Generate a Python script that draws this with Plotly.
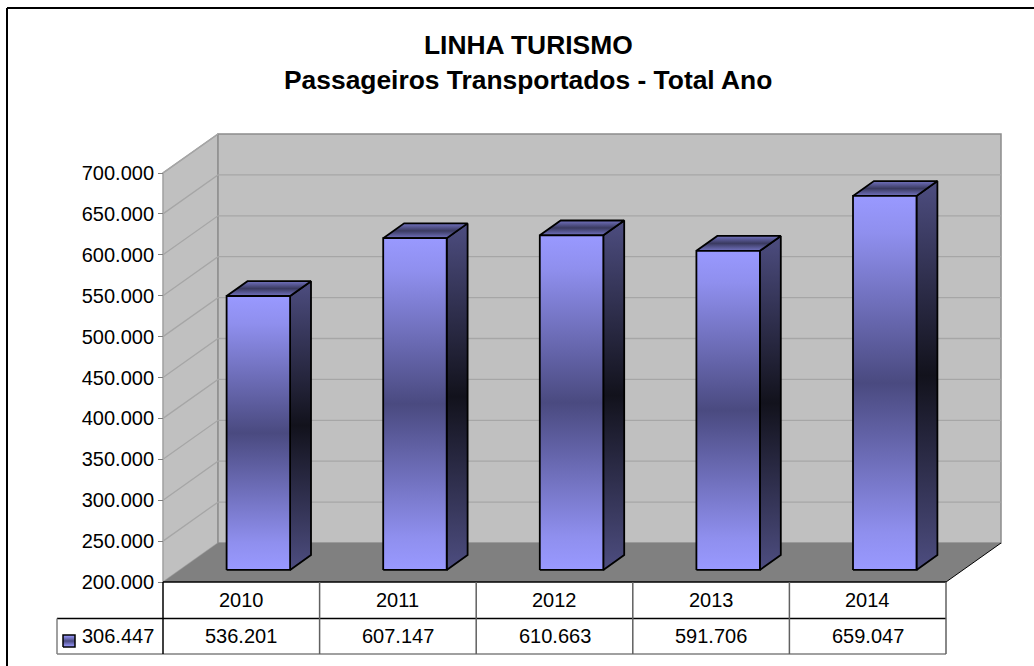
import plotly.graph_objects as go

# ---- data ----
categories = ["2010", "2011", "2012", "2013", "2014"]
values = [536201, 607147, 610663, 591706, 659047]
series_name = "306.447"
value_labels = ["536.201", "607.147", "610.663", "591.706", "659.047"]
axis_ticks = [200000, 250000, 300000, 350000, 400000, 450000, 500000, 550000, 600000, 650000, 700000]
title_lines = ["LINHA TURISMO", "Passageiros Transportados - Total Ano"]

# ---- chart geometry ----
W, H = 1034, 666
FRONT_LEFT, FRONT_RIGHT, FRONT_BOTTOM, FRONT_TOP = 163.0, 946.0, 582.0, 173.0
DEPTH_PX_X, DEPTH_PX_Y = 55.0, 39.0
Y_MIN, Y_MAX = axis_ticks[0], axis_ticks[-1]
n = len(categories)
cat_px = (FRONT_RIGHT - FRONT_LEFT) / n
val_px = (FRONT_BOTTOM - FRONT_TOP) / (Y_MAX - Y_MIN)
xrange_ = [(0 - FRONT_LEFT) / cat_px, (W - FRONT_LEFT) / cat_px]
yrange_ = [Y_MIN - (H - FRONT_BOTTOM) / val_px, Y_MIN + FRONT_BOTTOM / val_px]
DX = DEPTH_PX_X / cat_px
DY = DEPTH_PX_Y / val_px
BAR_W = 63.5 / cat_px
D0, D1 = 0.31, 0.69
BAR_SCALE = 0.996  # bars sit slightly inside the front plane


def px(xp, yp):
    return (xp - FRONT_LEFT) / cat_px, Y_MIN + (FRONT_BOTTOM - yp) / val_px


fig = go.Figure()


def poly(xs, ys, fill=None, line=None, width=1, grad=None):
    kw = {}
    if grad is not None:
        kw["fillgradient"] = dict(type="vertical", colorscale=grad)
    elif fill is not None:
        kw["fillcolor"] = fill
    fig.add_trace(go.Scatter(
        x=xs, y=ys, mode="lines", fill="toself" if (fill or grad) else "none",
        line=dict(color=line or "rgba(0,0,0,0)", width=width if line else 0),
        hoverinfo="skip", showlegend=False, **kw))


WALL = "#c0c0c0"
WALL_EDGE = "#8c8c8c"
GRID = "#a6a6a6"

# side wall, back wall, floor
poly([0, DX, DX, 0, 0], [Y_MIN, Y_MIN + DY, Y_MAX + DY, Y_MAX, Y_MIN], fill=WALL, line="#a0a0a0", width=1.5)
poly([DX, n + DX, n + DX, DX, DX], [Y_MIN + DY, Y_MIN + DY, Y_MAX + DY, Y_MAX + DY, Y_MIN + DY], fill=WALL, line=WALL_EDGE, width=1.5)
for v in axis_ticks[1:-1]:
    fig.add_trace(go.Scatter(x=[0, DX, n + DX], y=[v, v + DY, v + DY], mode="lines",
                             line=dict(color=GRID, width=1.3), hoverinfo="skip", showlegend=False))
fig.add_trace(go.Scatter(x=[0, DX], y=[Y_MAX, Y_MAX + DY], mode="lines",
                         line=dict(color=GRID, width=1.3), hoverinfo="skip", showlegend=False))
poly([0, n, n + DX, DX, 0], [Y_MIN, Y_MIN, Y_MIN + DY, Y_MIN + DY, Y_MIN], fill="#808080")

# bars
FRONT_GRAD = [[0, "#9999ff"], [0.1, "#8f8fee"], [0.5, "#4a4a80"], [0.9, "#8f8fee"], [1, "#9999ff"]]
SIDE_GRAD = [[0, "#4d4d80"], [0.5, "#12121c"], [1, "#4d4d80"]]
TOP_GRAD = [[0, "#7272c0"], [0.5, "#3a3a60"], [1, "#7272c0"]]
for i, v in enumerate(values):
    x0 = i + 0.5 - BAR_W / 2 + D0 * DX
    x1 = x0 + BAR_W
    b0 = Y_MIN + D0 * DY
    t0 = Y_MIN + (v - Y_MIN) * BAR_SCALE + D0 * DY
    sx = (D1 - D0) * DX
    sy = (D1 - D0) * DY
    poly([x1, x1 + sx, x1 + sx, x1, x1], [b0, b0 + sy, t0 + sy, t0, b0], grad=SIDE_GRAD, line="#000000", width=1.8)
    poly([x0, x1, x1 + sx, x0 + sx, x0], [t0, t0, t0 + sy, t0 + sy, t0], grad=TOP_GRAD, line="#000000", width=1.8)
    poly([x0, x1, x1, x0, x0], [b0, b0, t0, t0, b0], grad=FRONT_GRAD, line="#000000", width=1.8)

# legend key
kx0, ky0 = px(63, 647)
kx1, ky1 = px(75, 635)
poly([kx0, kx1, kx1, kx0, kx0], [ky0, ky0, ky1, ky1, ky0], grad=FRONT_GRAD, line="#000000", width=1.5)

# table + frame
shapes = []


def seg(x0p, y0p, x1p, y1p, color, width=1.5):
    shapes.append(dict(type="line", xref="paper", yref="paper",
                       x0=x0p / W, x1=x1p / W, y0=1 - y0p / H, y1=1 - y1p / H,
                       line=dict(color=color, width=width)))


TB0, TB1, TB2 = FRONT_BOTTOM, 618.5, 654.0
LEG_L = 57.0
seg(FRONT_LEFT, TB0, FRONT_RIGHT, TB0, "#000000")
seg(LEG_L, TB1, FRONT_RIGHT, TB1, "#000000")
seg(LEG_L, TB2, FRONT_RIGHT, TB2, "#808080")
seg(LEG_L, TB1, LEG_L, TB2, "#808080")
for i in range(n + 1):
    xp = FRONT_LEFT + i * cat_px
    seg(xp, TB0, xp, TB2, "#000000" if i == 0 else "#606060")
seg(FRONT_RIGHT, TB0, FRONT_RIGHT + DEPTH_PX_X, TB0 - DEPTH_PX_Y, "#000000", 1)
# outer frame: top and left only
seg(7, 8, W, 8, "#000000", 2)
seg(7, 8, 7, H, "#000000", 2)

FONT = "Liberation Sans, Arial, sans-serif"
TS = 20
ann = []
for i, (c, lab) in enumerate(zip(categories, value_labels)):
    ann.append(dict(x=i + 0.5, y=px(0, 600)[1], text=c, showarrow=False, xref="x", yref="y",
                    font=dict(size=TS, color="#000000", family=FONT)))
    ann.append(dict(x=i + 0.5, y=px(0, 636)[1], text=lab, showarrow=False, xref="x", yref="y",
                    font=dict(size=TS, color="#000000", family=FONT)))
ann.append(dict(x=px(118, 0)[0], y=px(0, 636)[1], text=series_name, showarrow=False, xref="x", yref="y",
                font=dict(size=TS, color="#000000", family=FONT)))
ann.append(dict(x=px(528, 0)[0], y=px(0, 45)[1], text="<b>" + title_lines[0] + "</b>", showarrow=False,
                xref="x", yref="y", font=dict(size=26.4, color="#000000", family=FONT)))
ann.append(dict(x=px(528, 0)[0], y=px(0, 80)[1], text="<b>" + title_lines[1] + "</b>", showarrow=False,
                xref="x", yref="y", font=dict(size=26.4, color="#000000", family=FONT)))

fig.update_layout(
    width=W, height=H,
    autosize=False,
    margin=dict(l=0, r=0, t=0, b=0),
    paper_bgcolor="#ffffff", plot_bgcolor="#ffffff",
    separators=",.",
    showlegend=False,
    shapes=shapes,
    annotations=ann,
    xaxis=dict(range=xrange_, domain=[0, 1], showgrid=False, zeroline=False, showticklabels=False, ticks="", showline=False),
    yaxis=dict(range=yrange_, domain=[0, 1], showgrid=False, zeroline=False, showline=False,
               anchor="free", position=FRONT_LEFT / W,
               tickmode="array", tickvals=axis_ticks, tickformat=",d",
               ticks="outside", ticklen=5, tickcolor="#808080", tickwidth=1,
               tickfont=dict(size=TS, color="#000000", family=FONT)),
)

fig.write_html("out.html", config=dict(displayModeBar=False),
               post_script="document.body.style.margin='0';document.body.style.overflow='hidden';")
